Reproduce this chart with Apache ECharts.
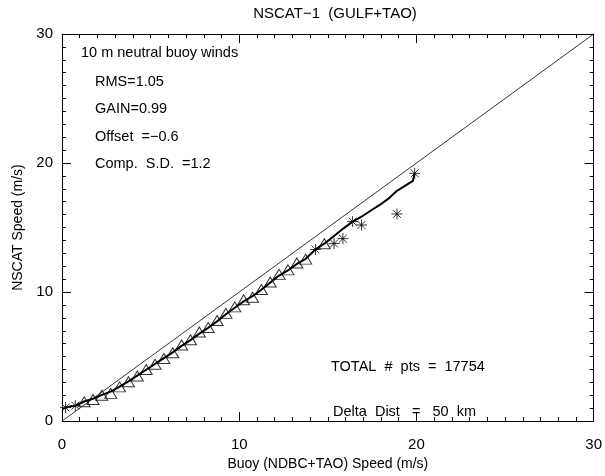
<!DOCTYPE html>
<html>
<head>
<meta charset="utf-8">
<script src="https://cdn.jsdelivr.net/npm/echarts@6/dist/echarts.min.js"></script>
<style>
  html, body { margin: 0; padding: 0; background: #ffffff; }
  #chart { width: 605px; height: 476px; }
</style>
</head>
<body>
<div id="chart"></div>
<script>
// Labels
const titleText = 'NSCAT\u22121  (GULF+TAO)';
const xAxisName = 'Buoy (NDBC+TAO) Speed (m/s)';
const yAxisName = 'NSCAT Speed (m/s)';
const headerNote = '10 m neutral buoy winds';
const statsLines = ['RMS=1.05', 'GAIN=0.99', 'Offset  =\u22120.6', 'Comp.  S.D.  =1.2'];
const totalNote = 'TOTAL  #  pts  =  17754';
const distNote = 'Delta  Dist   =   50  km';

// Axis range (m/s)
const axisMin = 0;
const axisMax = 30;
const axisStep = 10;

// Bin means drawn as open triangles (well-populated bins)
const triX = [1.25, 1.75, 2.25, 2.75, 3.25, 3.75, 4.25, 4.75, 5.25, 5.75, 6.25, 6.75, 7.25, 7.75, 8.25,
              8.75, 9.25, 9.75, 10.25, 10.75, 11.25, 11.75, 12.25, 12.75, 13.25, 13.75, 14.8];
const triY = [1.5, 1.68, 2.0, 2.15, 2.65, 3.05, 3.5, 4.0, 4.4, 4.85, 5.3, 5.9, 6.3, 6.9, 7.25,
              7.8, 8.35, 8.85, 9.4, 9.6, 10.2, 10.78, 11.37, 11.72, 12.25, 12.55, 13.74];

// Bin means drawn as asterisks (sparse bins)
const starX = [0.2, 0.75, 14.3, 15.35, 15.85, 16.4, 16.9, 18.9, 19.9];
const starY = [1.05, 1.2, 13.3, 13.76, 14.14, 15.46, 15.2, 16.05, 19.2];

// Running mean curve
const curveX = [0.2, 0.75, 1.25, 1.75, 2.25, 2.75, 3.25, 3.75, 4.25, 4.75, 5.25, 5.75, 6.25, 6.75, 7.25,
                7.75, 8.25, 8.75, 9.25, 9.75, 10.25, 10.75, 11.25, 11.75, 12.25, 12.75, 13.25, 13.75,
                14.3, 14.8, 15.35, 15.85, 16.4, 16.9, 17.45, 17.95, 18.4, 18.9, 19.35, 19.8, 19.9];
const curveY = [1.05, 1.2, 1.52, 1.73, 2.03, 2.28, 2.68, 3.08, 3.53, 3.98, 4.43, 4.88, 5.33, 5.83, 6.28,
                6.78, 7.23, 7.73, 8.28, 8.78, 9.28, 9.68, 10.18, 10.73, 11.28, 11.68, 12.18, 12.58,
                13.3, 13.75, 14.35, 14.9, 15.46, 15.84, 16.34, 16.77, 17.22, 17.85, 18.23, 18.61, 19.2];

// One-to-one reference line
const diagX = [0, 30];
const diagY = [0, 30];

const FONT = 'Liberation Sans';
const INK = '#000000';

const zip = (xs, ys) => xs.map((x, i) => [x, ys[i]]);

const asteriskPath = 'path://M5,0L5,10M0,5L10,5M1.46,1.46L8.54,8.54M1.46,8.54L8.54,1.46';

function axisBase(position, showLabels) {
  return {
    type: 'value',
    position: position,
    min: axisMin,
    max: axisMax,
    interval: axisStep,
    axisLine: { show: true, onZero: false, lineStyle: { color: INK, width: 1 } },
    axisTick: { show: true, inside: true, length: 9, lineStyle: { color: INK, width: 1 } },
    minorTick: { show: true, splitNumber: 10, length: 4, lineStyle: { color: INK, width: 1 } },
    splitLine: { show: false },
    axisLabel: { show: showLabels, color: INK, fontFamily: FONT, fontSize: 15 }
  };
}

const chart = echarts.init(document.getElementById('chart'), null, { renderer: 'canvas' });

const xBottom = Object.assign(axisBase('bottom', true), {
  name: xAxisName, nameLocation: 'middle', nameGap: 32,
  nameTextStyle: { color: INK, fontFamily: FONT, fontSize: 14 }
});
xBottom.axisLabel.margin = 16;
const yLeft = Object.assign(axisBase('left', true), {
  name: yAxisName, nameLocation: 'middle', nameGap: 30,
  nameTextStyle: { color: INK, fontFamily: FONT, fontSize: 14 }
});
yLeft.axisLabel.margin = 9;

const noteStyle = { fill: INK, font: '14.5px "' + FONT + '"' };

chart.setOption({
  animation: false,
  backgroundColor: '#ffffff',
  title: {
    text: titleText,
    left: 330,
    top: 1,
    textAlign: 'center',
    textStyle: { color: INK, fontFamily: FONT, fontSize: 15, fontWeight: 'normal' }
  },
  grid: { left: 62, right: 8, top: 34, bottom: 40, containLabel: false },
  xAxis: [xBottom, axisBase('top', false)],
  yAxis: [yLeft, axisBase('right', false)],
  series: [
    {
      type: 'line',
      data: zip(diagX, diagY),
      showSymbol: false,
      lineStyle: { color: INK, width: 0.8 },
      silent: true
    },
    {
      type: 'line',
      data: zip(curveX, curveY),
      showSymbol: false,
      lineStyle: { color: INK, width: 2 },
      silent: true
    },
    {
      type: 'scatter',
      data: zip(triX, triY),
      symbol: 'triangle',
      symbolSize: [12, 10],
      itemStyle: { color: 'transparent', borderColor: INK, borderWidth: 1 }
    },
    {
      type: 'scatter',
      data: zip(starX, starY),
      symbol: asteriskPath,
      symbolSize: 11,
      itemStyle: { color: 'transparent', borderColor: INK, borderWidth: 1 }
    }
  ],
  graphic: [
    { type: 'text', left: 81, top: 45, style: Object.assign({ text: headerNote }, noteStyle) },
    { type: 'text', left: 95, top: 74, style: Object.assign({ text: statsLines[0] }, noteStyle) },
    { type: 'text', left: 95, top: 101, style: Object.assign({ text: statsLines[1] }, noteStyle) },
    { type: 'text', left: 95, top: 129, style: Object.assign({ text: statsLines[2] }, noteStyle) },
    { type: 'text', left: 95, top: 156, style: Object.assign({ text: statsLines[3] }, noteStyle) },
    { type: 'text', left: 331, top: 359, style: Object.assign({ text: totalNote }, noteStyle) },
    { type: 'text', left: 333, top: 404, style: Object.assign({ text: distNote }, noteStyle) }
  ]
});
</script>
</body>
</html>
